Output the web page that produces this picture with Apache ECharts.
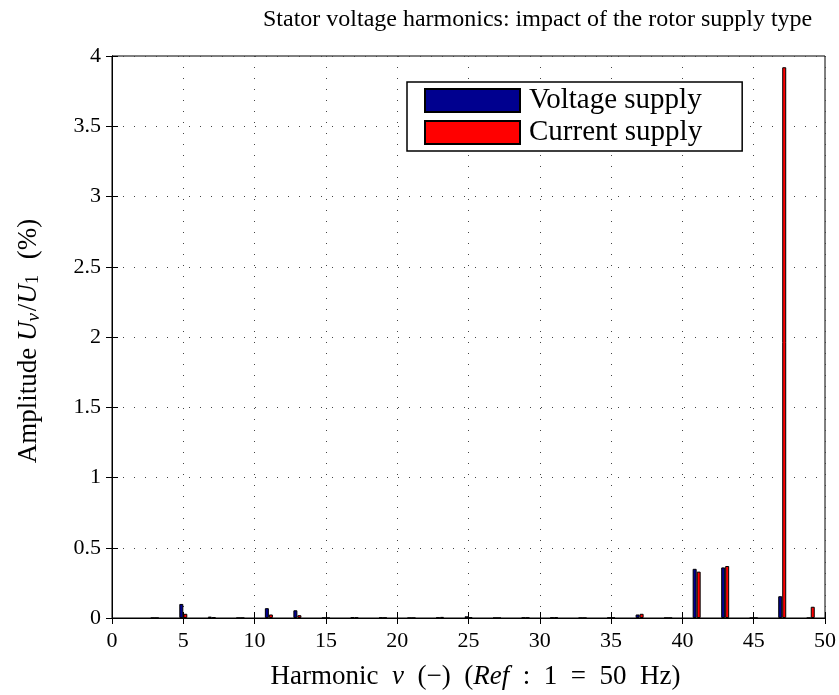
<!DOCTYPE html>
<html><head><meta charset="utf-8">
<script src="https://cdn.jsdelivr.net/npm/echarts@6/dist/echarts.min.js"></script>
<style>html,body{margin:0;padding:0;background:#fff}#c{width:839px;height:695px}</style>
</head><body><div id="c"></div>
<script>
const harmonics = [3,5,7,9,11,13,15,17,19,21,23,25,27,29,31,33,35,37,39,41,43,45,47,49];
const voltageSupply = [0,0.10,0.01,0,0.07,0.055,0,0.005,0.003,0,0.003,0.012,0,0.002,0.003,0,0.002,0.025,0,0.35,0.36,0,0.155,0];
const currentSupply = [0,0.03,0.005,0,0.025,0.02,0,0.003,0.002,0,0.008,0.005,0,0.002,0.005,0,0.002,0.03,0,0.33,0.37,0,3.92,0.08];
const seriesNames = ['Voltage supply','Current supply'];
const xTicks = {min:0,max:50,interval:5};
const yTicks = {min:0,max:4,interval:0.5};

const FONT = 'Liberation Serif';
const chart = echarts.init(document.getElementById('c'));
const grid = {left:112,right:14,top:56,bottom:77,show:true,borderColor:'#000',borderWidth:1,backgroundColor:'#fff'};
const dotted = {show:true,lineStyle:{color:'#444',type:[1,10],width:1}};
const tickStyle = {inside:true,length:6,lineStyle:{color:'#000'}};
const NS = 27;
chart.setOption({
  animation:false,
  textStyle:{fontFamily:FONT},
  graphic:[{type:'text',left:263,top:8,style:{text:'Stator voltage harmonics: impact of the rotor supply type',font:'24px "'+FONT+'"',fill:'#000'}}],
  grid:grid,
  legend:{orient:'vertical',left:407,top:82,padding:[4,40,4,17],itemGap:3,itemWidth:95,itemHeight:23,icon:'rect',
    borderColor:'#000',borderWidth:1.5,backgroundColor:'#fff',
    textStyle:{fontFamily:FONT,fontSize:29,lineHeight:28,color:'#000',padding:[0,0,0,4]},data:seriesNames},
  xAxis:[{type:'value',min:xTicks.min,max:xTicks.max,interval:xTicks.interval,
    axisLine:{lineStyle:{color:'#000'}},axisTick:tickStyle,splitLine:dotted,
    axisLabel:{fontFamily:FONT,fontSize:22,color:'#000',margin:12},
    name:'{n|Harmonic  }{i|ν}{n|  (−)  (}{i|Ref}{n|  :  1  =  50  Hz)}',nameLocation:'middle',nameGap:45,
    nameTextStyle:{padding:[0,0,0,14],rich:{n:{fontFamily:FONT,fontSize:NS,color:'#000'},i:{fontFamily:FONT,fontStyle:'italic',fontSize:NS,color:'#000'}}}},
   {type:'value',position:'top',min:xTicks.min,max:xTicks.max,interval:xTicks.interval,
    axisLine:{show:true,lineStyle:{color:'#000'}},axisTick:tickStyle,splitLine:{show:false},axisLabel:{show:false}}],
  yAxis:[{type:'value',min:yTicks.min,max:yTicks.max,interval:yTicks.interval,
    axisLine:{show:true,lineStyle:{color:'#000'}},axisTick:tickStyle,splitLine:dotted,
    axisLabel:{fontFamily:FONT,fontSize:22,color:'#000',margin:11},
    name:'{n|Amplitude }{i|U}{s|ν}{n|/}{i|U}{t|1}{n|  (%)}',nameLocation:'middle',nameGap:69,nameRotate:90,
    nameTextStyle:{padding:[0,8,0,0],rich:{n:{fontFamily:FONT,fontSize:NS,color:'#000'},i:{fontFamily:FONT,fontStyle:'italic',fontSize:NS,color:'#000'},
      s:{fontFamily:FONT,fontStyle:'italic',fontSize:19,color:'#000',verticalAlign:'bottom',padding:[10,2,0,0]},
      t:{fontFamily:FONT,fontSize:19,color:'#000',verticalAlign:'bottom',padding:[10,2,0,0]}}}},
   {type:'value',position:'right',min:yTicks.min,max:yTicks.max,interval:yTicks.interval,
    axisLine:{show:true,lineStyle:{color:'#000'}},axisTick:tickStyle,splitLine:{show:false},axisLabel:{show:false}}],
  series:[
    {name:seriesNames[0],type:'bar',barWidth:4,barGap:'0%',data:harmonics.map((h,i)=>[h,voltageSupply[i]]),
     itemStyle:{color:'#00008f',borderColor:'#000',borderWidth:1}},
    {name:seriesNames[1],type:'bar',barWidth:4,barGap:'0%',data:harmonics.map((h,i)=>[h,currentSupply[i]]),
     itemStyle:{color:'#ff0000',borderColor:'#000',borderWidth:1}}
  ]
});
</script></body></html>
